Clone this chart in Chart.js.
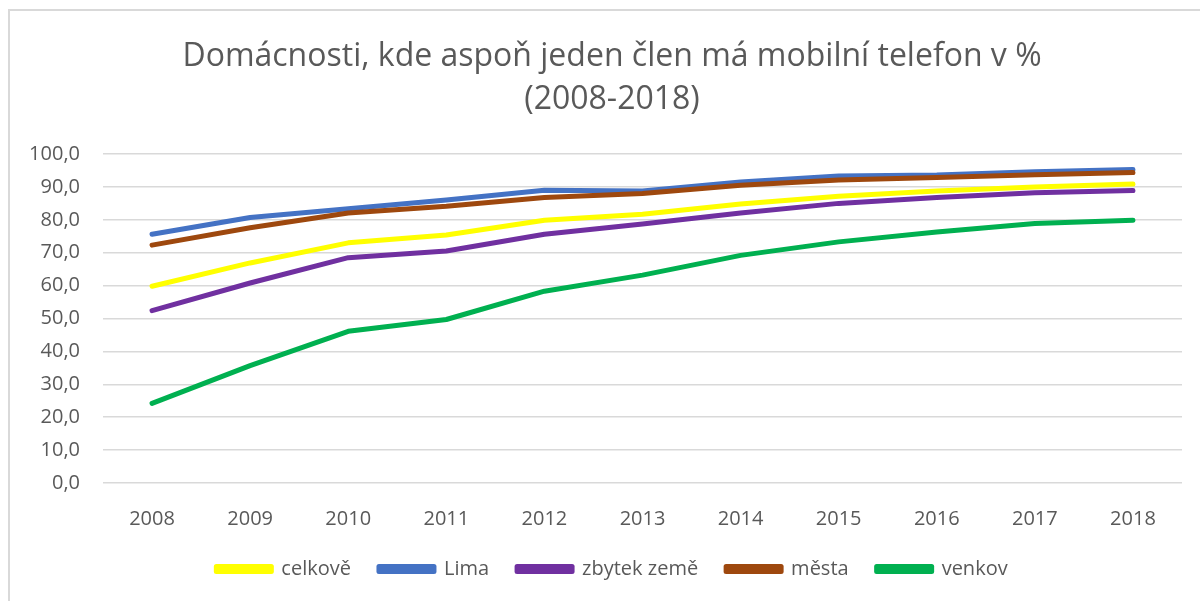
<!DOCTYPE html>
<html>
<head>
<meta charset="utf-8">
<script src="https://cdn.jsdelivr.net/npm/chart.js@4"></script>
<style>
  html, body { margin: 0; padding: 0; background: #fff; overflow: hidden; }
  .wrap { position: relative; width: 1200px; height: 601px; }
  .frame { position: absolute; left: 8px; top: 9px; width: 1300px; height: 700px; border: 2px solid #d9d9d9; }
  canvas { position: absolute; left: 0; top: 0; }
</style>
</head>
<body>
<div class="wrap">
  <div class="frame"></div>
  <canvas id="myChart" width="1200" height="601"></canvas>
</div>
<script>
const years = ['2008', '2009', '2010', '2011', '2012', '2013', '2014', '2015', '2016', '2017', '2018']

const celkove = [59.8, 66.9, 73.0, 75.4, 79.9, 81.7, 84.8, 87.2, 88.8, 90.0, 90.9]
const lima = [75.6, 80.7, 83.4, 86.0, 89.0, 88.8, 91.5, 93.3, 93.6, 94.6, 95.3]
const zbytekZeme = [52.4, 60.8, 68.5, 70.5, 75.6, 78.7, 82.1, 85.0, 86.8, 88.2, 88.9]
const mesta = [72.3, 77.6, 82.1, 84.1, 86.8, 88.0, 90.5, 92.1, 92.9, 93.7, 94.4]
const venkov = [24.2, 35.7, 46.1, 49.7, 58.3, 63.2, 69.2, 73.3, 76.3, 78.9, 79.9]

const seriesNames = ['celkově', 'Lima', 'zbytek země', 'města', 'venkov']
const seriesColors = ['#ffff00', '#4472c4', '#7030a0', '#9e480e', '#00b050']
const seriesData = [celkove, lima, zbytekZeme, mesta, venkov]

const textColor = '#595959'
const fontFamily = '"Open Sans", sans-serif'

const datasets = seriesData.map((values, i) => ({
  label: seriesNames[i],
  data: values,
  borderColor: seriesColors[i],
  backgroundColor: seriesColors[i],
  borderWidth: 5,
  borderCapStyle: 'round',
  borderJoinStyle: 'round',
  pointRadius: 0,
  tension: 0,
  order: seriesData.length - i, // later series on top, like excel
}))

const ctx = document.getElementById('myChart')

new Chart(ctx, {
  type: 'line',
  data: { labels: years, datasets },
  options: {
    responsive: false,
    animation: false,
    // uneven left/right padding so title + legend sit a bit right, like in excel
    layout: { padding: { left: 24, right: 0, top: 35, bottom: 12 } },
    scales: {
      x: {
        offset: true,
        grid: { display: false },
        border: { display: false },
        ticks: { color: textColor, font: { family: fontFamily, size: 20 }, padding: 16 },
        afterFit: scale => { scale.height = 48 },
      },
      y: {
        min: 0,
        max: 100,
        grid: { color: '#d9d9d9', lineWidth: 1.5, drawTicks: false },
        border: { display: false },
        ticks: {
          stepSize: 10,
          color: textColor,
          padding: 23,
          font: { family: fontFamily, size: 20 },
          callback: v => v.toFixed(1).replace('.', ','),
        },
        afterFit: scale => { scale.width = 79 },
      },
      // empty axis, only keeps space on the right side of the plot
      yRight: {
        position: 'right',
        min: 0,
        max: 100,
        grid: { display: false },
        border: { display: false },
        ticks: { display: false },
        afterFit: scale => { scale.width = 18 },
      },
    },
    plugins: {
      title: {
        display: true,
        text: ['Domácnosti, kde aspoň jeden člen má mobilní telefon v %', '(2008-2018)'],
        color: textColor,
        font: { family: fontFamily, size: 32, weight: 'normal', lineHeight: 1.36 },
        padding: { top: 0, bottom: 32 },
      },
      legend: {
        position: 'bottom',
        labels: {
          boxWidth: 55,
          boxHeight: 5,
          color: textColor,
          padding: 28,
          font: { family: fontFamily, size: 20 },
          sort: (a, b) => a.datasetIndex - b.datasetIndex,
        },
      },
      tooltip: { enabled: false },
    },
  },
})
</script>
</body>
</html>
